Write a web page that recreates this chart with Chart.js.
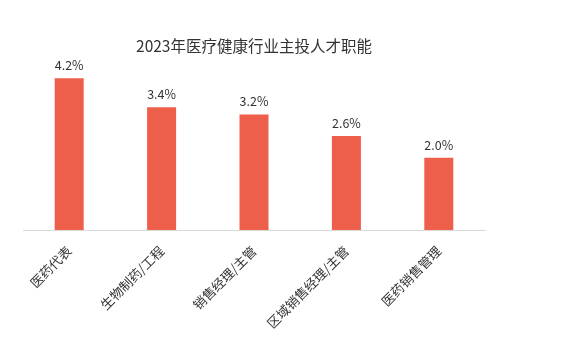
<!DOCTYPE html>
<html>
<head>
<meta charset="utf-8">
<script src="https://cdn.jsdelivr.net/npm/chart.js@4"></script>
<style>
html,body{margin:0;padding:0;background:#fff;}
#wrap{width:582px;height:352px;position:relative;}
</style>
</head>
<body>
<div id="wrap"><canvas id="c"></canvas></div>
<script>
const chartTitle = '2023年医疗健康行业主投人才职能';
const categories = ['医药代表', '生物制药/工程', '销售经理/主管', '区域销售经理/主管', '医药销售管理'];
const values = [4.2, 3.4, 3.2, 2.6, 2.0];
const valueLabels = ['4.2%', '3.4%', '3.2%', '2.6%', '2.0%'];

const FONT = '"Noto Sans CJK SC", "Noto Sans", sans-serif';

const valueLabelPlugin = {
  id: 'valueLabels',
  afterDatasetsDraw(chart) {
    const ctx = chart.ctx;
    const meta = chart.getDatasetMeta(0);
    ctx.save();
    ctx.font = '12.5px ' + FONT;
    ctx.fillStyle = '#333333';
    ctx.textAlign = 'center';
    ctx.textBaseline = 'alphabetic';
    meta.data.forEach((bar, i) => {
      ctx.fillText(valueLabels[i], bar.x, bar.y - 8);
    });
    ctx.restore();
  }
};

new Chart(document.getElementById('c'), {
  type: 'bar',
  data: {
    labels: categories,
    datasets: [{
      data: values,
      backgroundColor: '#EE5F4B',
      borderWidth: 0,
      categoryPercentage: 1,
      barPercentage: 0.314
    }]
  },
  options: {
    responsive: true,
    maintainAspectRatio: false,
    animation: false,
    layout: { padding: { left: 23, right: 97, top: 0, bottom: 0 } },
    plugins: {
      legend: { display: false },
      tooltip: { enabled: false },
      title: {
        display: true,
        text: chartTitle,
        color: '#333333',
        font: { family: FONT, size: 15.5, weight: 'normal', lineHeight: 1.2 },
        padding: { top: 37, bottom: 1 }
      }
    },
    scales: {
      x: {
        grid: { display: false, drawTicks: false },
        border: { display: true, color: '#d9d9d9', width: 1 },
        ticks: {
          color: '#333333',
          font: { family: FONT, size: 13 },
          minRotation: 45,
          maxRotation: 45,
          autoSkip: false,
          padding: 13
        },
        afterFit(scale) { scale.height = 122; }
      },
      y: {
        display: false,
        min: 0,
        max: 4.8
      }
    }
  },
  plugins: [valueLabelPlugin]
});
</script>
</body>
</html>
